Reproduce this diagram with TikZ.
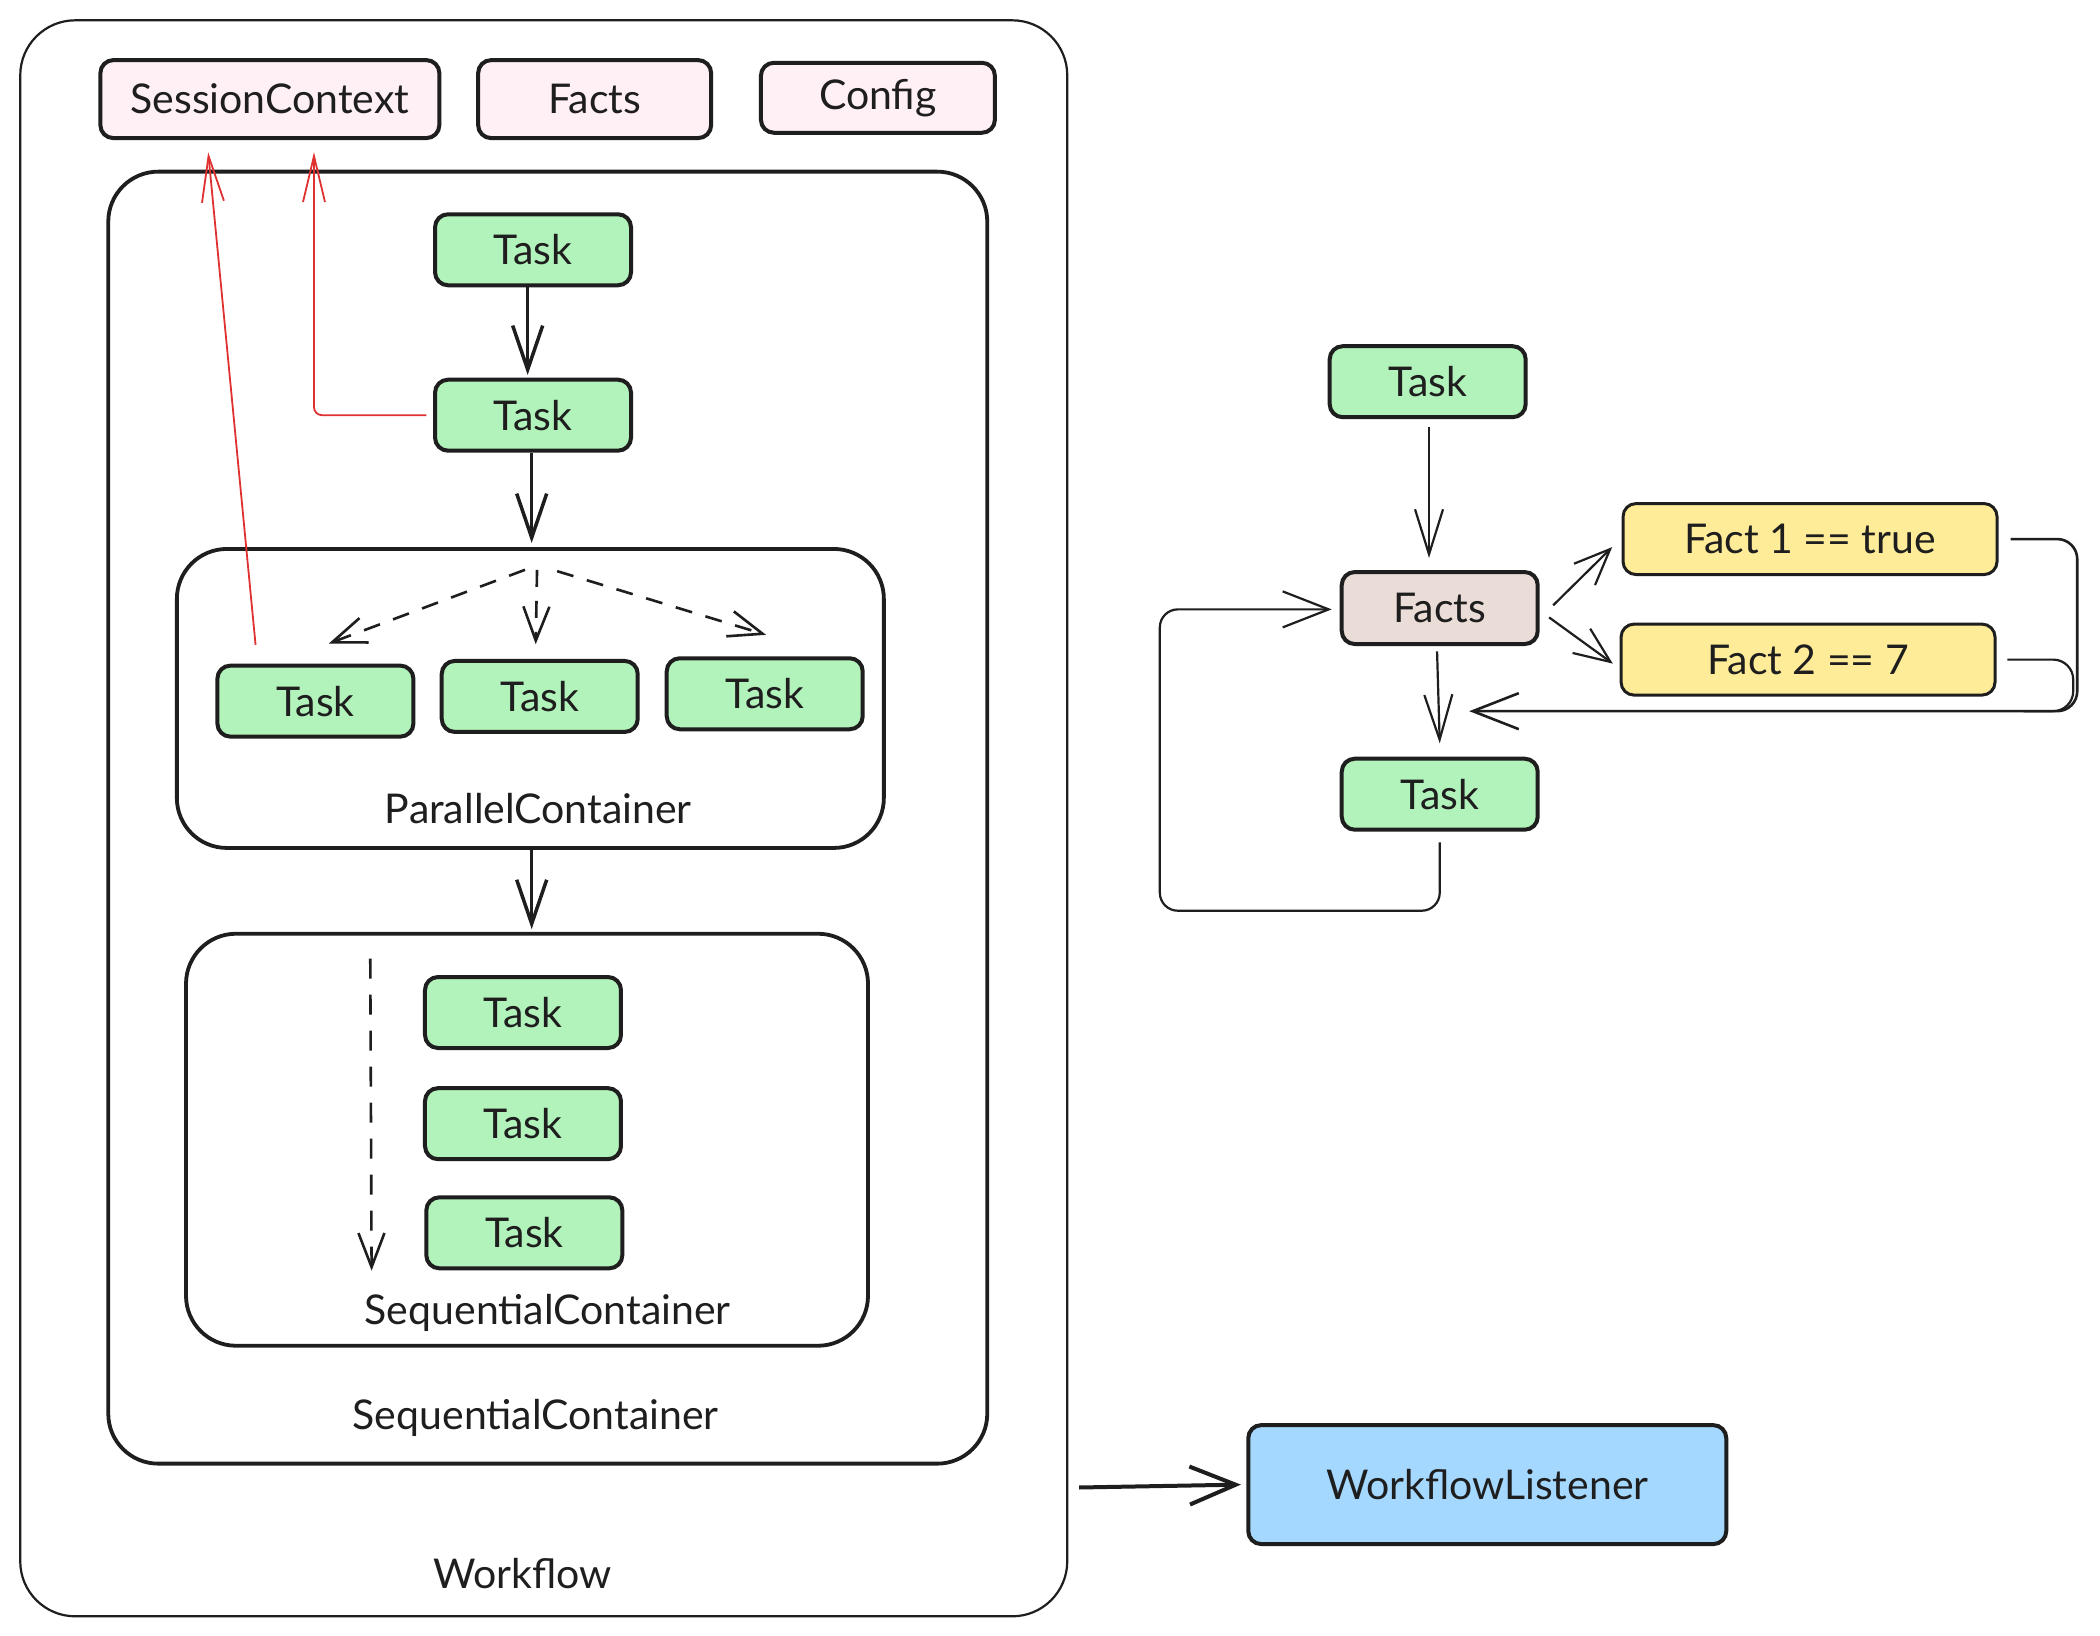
\documentclass[tikz,border=0pt]{standalone}
\usepackage{fontspec}
\setmainfont{Lato}
\usetikzlibrary{arrows.meta,calc}
\definecolor{ink}{HTML}{1E1E1E}
\definecolor{taskgreen}{HTML}{B2F2BB}
\definecolor{pinkfill}{HTML}{FFF0F5}
\definecolor{factsfill}{HTML}{EADDD7}
\definecolor{yellowfill}{HTML}{FFEC99}
\definecolor{bluefill}{HTML}{A5D8FF}
\definecolor{redline}{HTML}{E03131}
\begin{document}
\begin{tikzpicture}[x=1.3393pt,y=-1.3393pt,
  lbl/.style={font=\fontsize{41}{48}\selectfont, text=ink, inner sep=0pt},
  box/.style={draw=ink, line width=4pt, rounded corners=13pt, inner sep=0pt,
    font=\fontsize{41}{48}\selectfont, text=ink},
  taskbox/.style={box, fill=taskgreen, minimum width=196pt, minimum height=71pt},
  pinkbox/.style={box, fill=pinkfill, minimum height=78pt},
  factbox/.style={box, line width=3pt, fill=yellowfill, minimum width=374pt, minimum height=71pt},
  container/.style={draw=ink, line width=3.8pt, rounded corners=50pt, inner sep=0pt},
  mainarrow/.style={draw=ink, line width=3.5pt, -{Straight Barb[length=44pt,width=30pt]}},
  thinarrow/.style={draw=ink, line width=2.2pt, -{Straight Barb[length=45pt,width=28pt]}},
  dasharrow/.style={draw=ink, line width=2.6pt, dash pattern=on 17pt off 14pt,
    -{Straight Barb[length=34pt,width=26pt,line width=2.6pt]}},
  redarrow/.style={draw=redline, line width=1.8pt, -{Straight Barb[length=46pt,width=22pt]}},
]
\useasboundingbox (0,0) rectangle (1568,1221);
\fill[white] (0,0) rectangle (1568,1221);

% containers
\node[container, line width=2.2pt, rounded corners=55pt, minimum width=1047pt, minimum height=1596pt] (wf) at (406,611) {};
\node[container, minimum width=879pt, minimum height=1292pt] (sc1) at (409,610.5) {};
\node[container, minimum width=707pt, minimum height=299pt] (pc) at (396,521.5) {};
\node[container, minimum width=682pt, minimum height=412pt] (sc2) at (393.5,851) {};

\node[lbl] (wflbl) at (390,1175) {Workflow};
\node[lbl] (sc1lbl) at (400,1059) {SequentialContainer};
\node[lbl] (pclbl) at (402,604) {ParallelContainer};
\node[lbl] (sc2lbl) at (409,980) {SequentialContainer};

% top row
\node[pinkbox, minimum width=339pt] (sess) at (201.5,74) {SessionContext};
\node[pinkbox, minimum width=233pt] (factsTop) at (444,74) {Facts};
\node[pinkbox, minimum width=234pt, minimum height=70pt] (config) at (655.5,73) {Config};

% tasks left
\node[taskbox] (t1) at (398,186.5) {Task};
\node[taskbox] (t2) at (398,310) {Task};
\node[taskbox] (p1) at (235.5,523.5) {Task};
\node[taskbox] (p2) at (403,520) {Task};
\node[taskbox] (p3) at (571,518) {Task};
\node[taskbox] (s1) at (390.5,756) {Task};
\node[taskbox] (s2) at (390.5,839) {Task};
\node[taskbox] (s3) at (391.5,920.5) {Task};

% listener
\node[box, fill=bluefill, minimum width=478pt, minimum height=119pt] (wl) at (1110.5,1108.5) {WorkflowListener};

% right side
\node[taskbox] (tt) at (1066,285) {Task};
\node[box, fill=factsfill, minimum width=196pt, minimum height=72pt] (fc) at (1075,454) {Facts};
\node[factbox] (f1) at (1351.5,402.5) {Fact 1 == true};
\node[factbox] (f2) at (1350,492.5) {Fact 2 == 7};
\node[taskbox] (tb) at (1075,593) {Task};

% main arrows left
\draw[mainarrow] (t1.south) ++(-4,0) -- ($(t2.north)+(-4,-2)$);
\draw[mainarrow] (t2.south) ++(-1,0) -- ($(pc.north -| t2.south)+(-1,-3)$);
\draw[mainarrow] (pc.south) ++(1,0) -- ($(sc2.north -| pc.south)+(1,-2)$);

% parallel dashed
\coordinate (porig) at ($(pc.north)+(4,15)$);
\draw[dasharrow] ($(porig)+(-8,2)$) -- ($(p1.north)+(10,-15)$);
\draw[dasharrow] ($(porig)+(1,2)$) -- ($(p2.north)+(-3,-11)$);
\draw[dasharrow] ($(porig)+(16,3)$) -- ($(p3.north)+(1,-16)$);

% sequential dashed
\coordinate (sqtop) at ($(sc2.north west)+(139,20)$);
\coordinate (sqbot) at ($(sc2.north west)+(140,253)$);
\draw[dasharrow, dash pattern=on 20pt off 16pt] (sqtop) -- (sqbot);

% red arrows
\draw[redarrow] ($(p1.north west)+(30,-14)$) -- ($(sess.south west)+(82,9)$);
\draw[redarrow, rounded corners=8pt] ($(t2.west)+(-5,0)$) -| ($(sess.south west)+(161,9)$);

% workflow -> listener
\coordinate (wfout) at ($(wf.south east)+(8,-97)$);
\draw[mainarrow, line width=4pt, -{Straight Barb[length=46pt,width=38pt]}] (wfout) -- ($(wl.west)+(-4,0)$);

% right side arrows
\draw[thinarrow] ($(tt.south)+(1,6)$) -- ($(fc.north)+(-8,-9)$);
\draw[thinarrow, -{Straight Barb[length=36pt,width=30pt]}] ($(fc.east)+(10,-2)$) -- ($(f1.west)+(-7,6)$);
\draw[thinarrow, -{Straight Barb[length=36pt,width=30pt]}] ($(fc.east)+(7,7)$) -- ($(f2.west)+(-5,3)$);
\draw[thinarrow] ($(fc.south)+(-2,4)$) -- ($(tb.north)+(0,-10)$);

% feedback loop Task -> Facts
\coordinate (loopBL) at (866,680);
\draw[thinarrow, rounded corners=18pt, -{Straight Barb[length=46pt,width=36pt]}]
  ($(tb.south)+(0,8)$) |- (loopBL) |- ($(fc.west)+(-6,1)$);

% facts loop back
\coordinate (join) at ($(tb.north)+(22,-34)$);
\coordinate (loopR) at ($(join)+(454,0)$);
\draw[thinarrow, line width=2.6pt, rounded corners=20pt, -{Straight Barb[length=46pt,width=36pt]}]
  ($(f1.east)+(9,0)$) -| (loopR) -- (join);
\draw[draw=ink, line width=2.2pt, rounded corners=20pt]
  ($(f2.east)+(8,0)$) -| ($(loopR)+(-3,0)$) -- ($(loopR)+(-40,0)$);
\end{tikzpicture}
\end{document}
